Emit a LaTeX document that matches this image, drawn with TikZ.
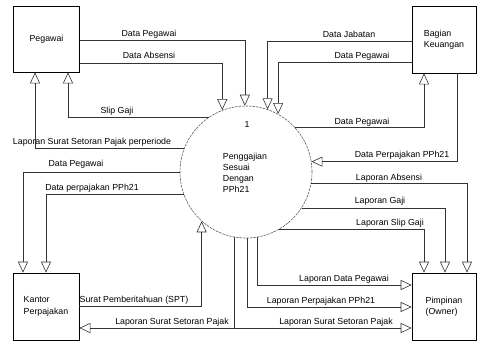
\documentclass[tikz,border=0pt]{standalone}
\usepackage{fontspec}
\setmainfont{Liberation Sans}
\usetikzlibrary{arrows.meta}

\begin{document}
\begin{tikzpicture}[x=1pt, y=-1pt,
        entity/.style={draw, line width=0.7pt, minimum width=66pt, minimum height=66pt, align=left, font=\fontsize{8.8}{11.5}\selectfont},
        process/.style={circle, draw=black!65, line width=0.6pt, dash pattern=on 2.5pt off 1pt, minimum size=132pt, inner sep=0pt},
        flow/.style={draw=black!80, line width=0.6pt, -{Triangle[open, length=11pt, width=10pt]}},
        lbl/.style={font=\fontsize{8.8}{10}\selectfont, inner sep=1pt}]
        \useasboundingbox (0,0) rectangle (477,341);

        \node[entity] (peg) at (46.5,39) {Pegawai};
        \node[entity, minimum width=64pt, minimum height=67pt] (keu) at (444,39.5) {Bagian\\Keuangan};
        \node[entity, minimum height=67pt] (kan) at (46,306.5) {Kantor\\Perpajakan};
        \node[entity, minimum width=64pt, minimum height=67pt] (pim) at (444,306.5) {Pimpinan\\(Owner)};

        \node[process] (proc) at (246,172) {};
        \node[lbl] (procnum) at (247,124) {1};
        \node[lbl, align=left, font=\fontsize{8.8}{11}\selectfont] (procname) at (245,173) {Penggajian\\Sesuai\\Dengan\\PPh21};

        % Pegawai
        \draw[flow] (peg.east |- 0,40) -| (proc.91);
        \draw[flow] (peg.east |- 0,63) -| (proc.111);
        \draw[flow] (proc.124) -| (peg.south -| 68,0);
        \draw[flow] (proc.159) -| (peg.south -| 35,0);
        \node[lbl] (lpeg1) at (149,34) {Data Pegawai};
        \node[lbl] (labsensi) at (149,55) {Data Absensi};
        \node[lbl] (lslip) at (117,111) {Slip Gaji};
        \node[lbl] (lsetoranper) at (92,142) {Laporan Surat Setoran Pajak perperiode};

        % Bagian Keuangan
        \draw[flow] (keu.west |- 0,41) -| (proc.71);
        \draw[flow] (keu.west |- 0,62) -| (proc.61);
        \draw[flow] (proc.42) -| (keu.south -| 424,0);
        \draw[flow] (keu.south -| 457,0) |- (proc.9);
        \node[lbl] (ljabatan) at (349,34) {Data Jabatan};
        \node[lbl] (lpeg2) at (362,56) {Data Pegawai};
        \node[lbl] (lpeg3) at (362,122) {Data Pegawai};
        \node[lbl] (lpajakkeu) at (402,155) {Data Perpajakan PPh21};

        % Kantor Perpajakan
        \draw[flow] (proc.180) -| (kan.north -| 23,0);
        \draw[flow] (proc.200) -| (kan.north -| 46,0);
        \draw[flow] (kan.east |- 0,306) -| (proc.228);
        \draw[flow] (proc.260) |- (kan.east |- 0,328);
        \node[lbl] (lpeg4) at (76,164) {Data Pegawai};
        \node[lbl] (lpajakkan) at (92,188) {Data perpajakan PPh21};
        \node[lbl] (lspt) at (134,300) {Surat Pemberitahuan (SPT)};
        \node[lbl] (lsetoran1) at (172,322) {Laporan Surat Setoran Pajak};

        % Pimpinan
        \draw[flow] (proc.260) |- (pim.west |- 0,328);
        \draw[flow] (proc.271) |- (pim.west |- 0,307);
        \draw[flow] (proc.280) |- (pim.west |- 0,285);
        \draw[flow] (proc.300) -| (pim.north -| 424,0);
        \draw[flow] (proc.327) -| (pim.north -| 445,0);
        \draw[flow] (proc.350) -| (pim.north -| 467,0);
        \node[lbl] (lsetoran2) at (336,322) {Laporan Surat Setoran Pajak};
        \node[lbl] (lpajakpim) at (321,301) {Laporan Perpajakan PPh21};
        \node[lbl] (lpeg5) at (344,279) {Laporan Data Pegawai};
        \node[lbl] (lslipgaji) at (390,223) {Laporan Slip Gaji};
        \node[lbl] (lgaji) at (380,201) {Laporan Gaji};
        \node[lbl] (labsen) at (389,178) {Laporan Absensi};
\end{tikzpicture}
\end{document}
